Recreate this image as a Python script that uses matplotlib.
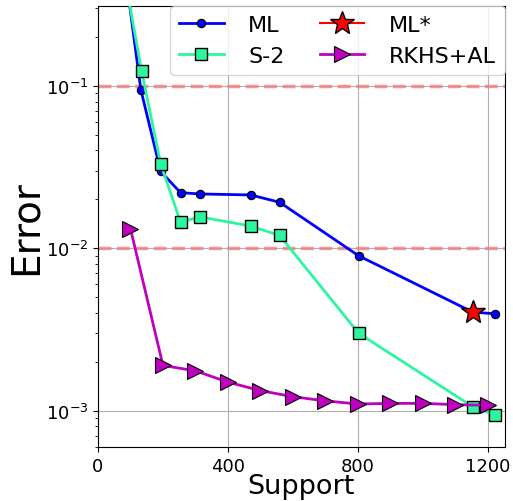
import matplotlib
matplotlib.use('Agg')
import matplotlib.pyplot as plt

ml_x = [64, 132, 193, 254, 315, 470, 559, 802, 1153, 1223]
ml_y = [1.0, 0.0945, 0.0297, 0.022, 0.0216, 0.0213, 0.0192, 0.009, 0.00405, 0.00395]

s2_x = [64, 134, 193, 254, 315, 470, 559, 802, 1153, 1223]
s2_y = [0.75, 0.124, 0.033, 0.0145, 0.0156, 0.0137, 0.012, 0.003, 0.00106, 0.00094]

mlstar_x = [1153]
mlstar_y = [0.00405]

rk_x = [100, 200, 300, 400, 500, 600, 700, 800, 900, 1000, 1100, 1200]
rk_y = [0.0132, 0.0019, 0.00176, 0.0015, 0.00133, 0.00122, 0.00115, 0.0011, 0.00111, 0.00111, 0.00109, 0.00108]

thresholds = [0.1, 0.01]

fig = plt.figure(figsize=(5.13, 5.02), dpi=100)
ax = fig.add_axes([0.191, 0.108, 0.793, 0.878])

for t in thresholds:
    ax.axhline(t, color='lightcoral', linestyle='--', linewidth=2.5, alpha=0.8, zorder=2)

ax.plot(ml_x, ml_y, color='blue', marker='o', markersize=6, markeredgecolor='k', markeredgewidth=0.8,
        linewidth=2, label='ML', zorder=3)
ax.plot(s2_x, s2_y, color='#2ef5a0', marker='s', markersize=8, markeredgecolor='k', markeredgewidth=1,
        linewidth=2, label='S-2', zorder=3)
ax.plot(mlstar_x, mlstar_y, color='red', marker='*', markersize=18, markeredgecolor='k', markeredgewidth=1,
        linewidth=1.5, label='ML*', zorder=4)
ax.plot(rk_x, rk_y, color='m', marker='>', markersize=12, markeredgecolor='k', markeredgewidth=0.8,
        linewidth=2, label='RKHS+AL', zorder=3)

ax.set_yscale('log')
ax.set_xlim(0, 1252)
ax.set_ylim(6e-4, 0.31)
ax.set_xticks([0, 400, 800, 1200])
ax.grid(True, which='major', color='#b0b0b0', linewidth=0.8)
ax.tick_params(labelsize=13)
ax.set_xlabel('Support', fontsize=19.5, labelpad=-1)
ax.set_ylabel('Error', fontsize=28, labelpad=1)
ax.legend(ncol=2, loc='upper right', fontsize=16, borderaxespad=0.0, handlelength=2.0,
          handletextpad=1.1, columnspacing=1.6)

fig.savefig('out.png')
